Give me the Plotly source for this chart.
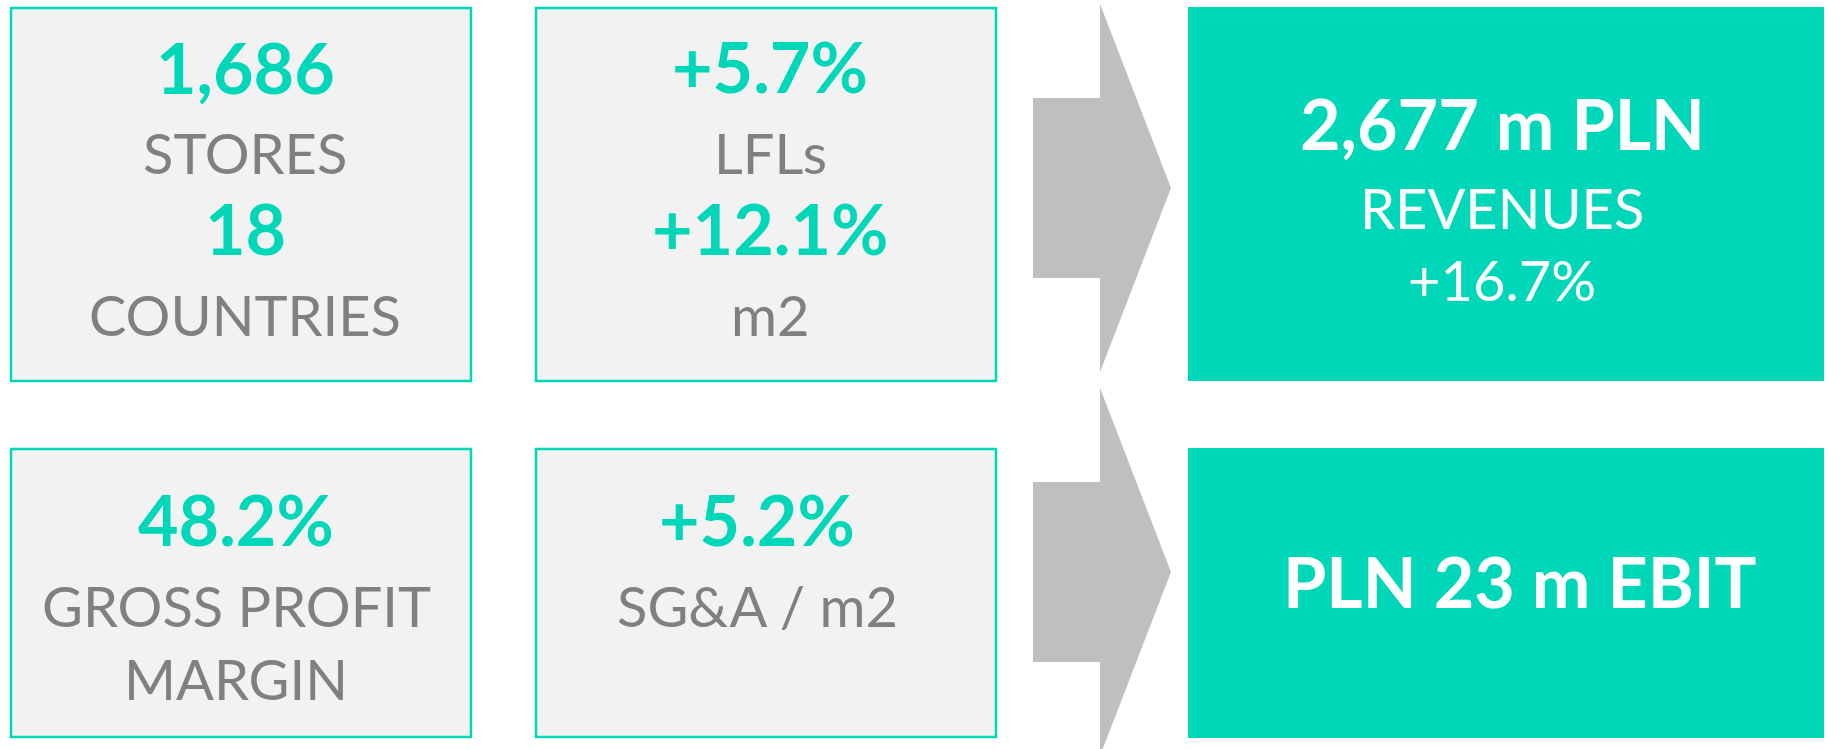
import plotly.graph_objects as go

W, H = 1827, 749

# ---- content ----
tile_values = [["1,686", "18"], ["+5.7%", "+12.1%"], ["48.2%"], ["+5.2%"]]
tile_labels = [["STORES", "COUNTRIES"], ["LFLs", "m2"], ["GROSS PROFIT", "MARGIN"], ["SG&A / m2"]]
result_headlines = ["2,677 m PLN", "PLN 23 m EBIT"]
result_sublines = [["REVENUES", "+16.7%"], []]

# ---- layout / style ----
TEAL = "#00D7B9"
GRAY_TXT = "#808080"
TILE_FILL = "#F2F2F2"
ARROW = "#BFBFBF"
FONT = "Lato"

tile_cols = [(11, 471), (536, 996), (11, 471), (536, 996)]
tile_rows = [(8, 381), (8, 381), (449, 737), (449, 737)]
tile_centers_x = [245, 770, 236, 757]
# vertical centers for each tile's lines, in order of appearance
tile_line_y = [[67, 152, 228, 314], [66, 152, 228, 314], [519, 605, 678], [519, 605]]

result_box_x = (1188, 1824)
result_rows = [(7, 381), (448, 738)]
result_center_x = [1502, 1520]
result_line_y = [[123, 207, 279], [581]]

arrow_x = (1033, 1100, 1171)
arrow_tip_y = [188, 572]
arrow_stem_half = 90
arrow_head_half = 184

fig = go.Figure()
shapes = []
annotations = []

for i in range(4):
    x0, x1 = tile_cols[i]
    y0, y1 = tile_rows[i]
    shapes.append(dict(type="rect", xref="x", yref="y", x0=x0, x1=x1, y0=y0, y1=y1,
                       fillcolor=TILE_FILL, line=dict(color=TEAL, width=2.5), layer="below"))
    vals, labs = tile_values[i], tile_labels[i]
    if i == 2:
        lines = [(vals[0], TEAL, 70, 700), (labs[0], GRAY_TXT, 56, 400), (labs[1], GRAY_TXT, 56, 400)]
    else:
        lines = []
        for k in range(max(len(vals), len(labs))):
            if k < len(vals):
                lines.append((vals[k], TEAL, 70, 700))
            if k < len(labs):
                lines.append((labs[k], GRAY_TXT, 56, 400))
    for (txt, col, size, wt), yc in zip(lines, tile_line_y[i]):
        annotations.append(dict(x=tile_centers_x[i], y=yc, xref="x", yref="y", text=txt,
                                showarrow=False, xanchor="center", yanchor="middle",
                                font=dict(family=FONT, size=size, color=col, weight=wt)))

for j in range(2):
    y0, y1 = result_rows[j]
    shapes.append(dict(type="rect", xref="x", yref="y", x0=result_box_x[0], x1=result_box_x[1],
                       y0=y0, y1=y1, fillcolor=TEAL, line=dict(width=0), layer="below"))
    lines = [(result_headlines[j], 70, 700)] + [(s, 56, 400) for s in result_sublines[j]]
    for (txt, size, wt), yc in zip(lines, result_line_y[j]):
        annotations.append(dict(x=result_center_x[j], y=yc, xref="x", yref="y", text=txt,
                                showarrow=False, xanchor="center", yanchor="middle",
                                font=dict(family=FONT, size=size, color="white", weight=wt)))
    ty = arrow_tip_y[j]
    xs, xb, xt = arrow_x
    path = (f"M {xs},{ty - arrow_stem_half} L {xb},{ty - arrow_stem_half} L {xb},{ty - arrow_head_half} "
            f"L {xt},{ty} L {xb},{ty + arrow_head_half} L {xb},{ty + arrow_stem_half} "
            f"L {xs},{ty + arrow_stem_half} Z")
    shapes.append(dict(type="path", xref="x", yref="y", path=path, fillcolor=ARROW,
                       line=dict(width=0), layer="below"))

fig.update_layout(
    width=W, height=H,
    margin=dict(l=0, r=0, t=0, b=0),
    paper_bgcolor="white", plot_bgcolor="white",
    xaxis=dict(range=[0, W], visible=False, fixedrange=True),
    yaxis=dict(range=[H, 0], visible=False, fixedrange=True),
    shapes=shapes, annotations=annotations, showlegend=False,
)

fig.write_html("out.html", config={"displayModeBar": False},
               post_script="document.body.style.margin='0px';document.body.style.overflow='hidden';")
